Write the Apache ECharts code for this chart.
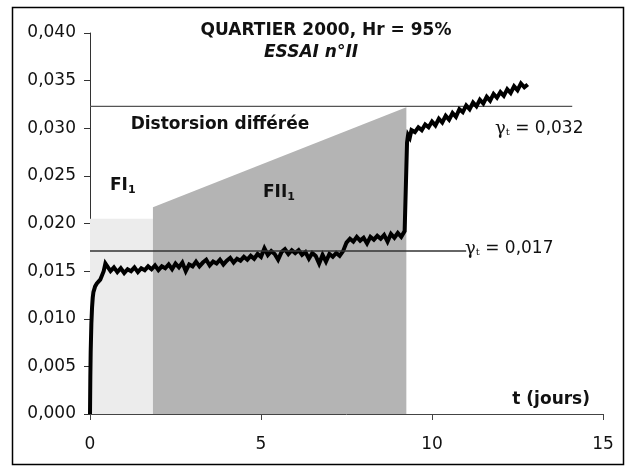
<!DOCTYPE html>
<html>
<head>
<meta charset="utf-8">
<script src="https://cdn.jsdelivr.net/npm/echarts@6/dist/echarts.min.js"></script>
<style>html,body{margin:0;padding:0;background:#fff;}#c{width:626px;height:466px;}</style>
</head>
<body>
<div id="c"></div>
<script>
// ---- data ----
const timeDays = [
  0, 0.01, 0.02, 0.04, 0.06, 0.08, 0.1, 0.15, 0.2, 0.25, 0.3, 0.35, 0.4, 0.45,
  0.5, 0.6, 0.7, 0.8, 0.9, 1.0, 1.1, 1.2, 1.3, 1.4, 1.5, 1.6, 1.7, 1.8,
  1.9, 2.0, 2.1, 2.2, 2.3, 2.4, 2.5, 2.6, 2.7, 2.8, 2.9, 3.0,
  3.1, 3.2, 3.3, 3.4, 3.5, 3.6, 3.7, 3.8, 3.9, 4.0,
  4.1, 4.2, 4.3, 4.4, 4.5, 4.6, 4.7, 4.8, 4.9, 5.0,
  5.1, 5.2, 5.3, 5.4, 5.5, 5.6, 5.7, 5.8, 5.9, 6.0,
  6.1, 6.2, 6.3, 6.4, 6.5, 6.6, 6.7, 6.8, 6.9, 7.0, 7.1, 7.2, 7.3, 7.4,
  7.5, 7.6, 7.7, 7.8, 7.9, 8.0, 8.1, 8.2, 8.3, 8.4, 8.5, 8.6, 8.7, 8.8, 8.9, 9.0, 9.1, 9.2,
  9.25, 9.27, 9.3, 9.35, 9.4, 9.5, 9.6, 9.7, 9.8, 9.9, 10.0,
  10.1, 10.2, 10.3, 10.4, 10.5, 10.6, 10.7, 10.8, 10.9, 11.0,
  11.1, 11.2, 11.3, 11.4, 11.5, 11.6, 11.7, 11.8, 11.9, 12.0,
  12.1, 12.2, 12.3, 12.4, 12.5, 12.6, 12.7, 12.8
];
const gammaStrain = [
  0, 0.0040, 0.0065, 0.0095, 0.0112, 0.0122, 0.0128, 0.0134, 0.0137, 0.0139, 0.0141, 0.0143, 0.0150, 0.0158,
  0.0156, 0.0150, 0.0154, 0.0149, 0.0153, 0.0148, 0.0152, 0.0150, 0.0154, 0.0149, 0.0153, 0.0151, 0.0155, 0.0152,
  0.0156, 0.0151, 0.0155, 0.0153, 0.0157, 0.0152, 0.0158, 0.0154, 0.0159, 0.0150, 0.0157, 0.0155,
  0.0160, 0.0155, 0.0159, 0.0162, 0.0156, 0.0160, 0.0158, 0.0162, 0.0157, 0.0161,
  0.0164, 0.0159, 0.0163, 0.0161, 0.0165, 0.0162, 0.0166, 0.0163, 0.0168, 0.0165,
  0.0174, 0.0167, 0.0171, 0.0168, 0.0162, 0.0170, 0.0173, 0.0168, 0.0172, 0.0169,
  0.0172, 0.0167, 0.0170, 0.0163, 0.0169, 0.0166, 0.0158, 0.0167, 0.0160, 0.0168, 0.0165, 0.0169, 0.0166, 0.0171,
  0.0180, 0.0184, 0.0181, 0.0186, 0.0182, 0.0185, 0.0179, 0.0186, 0.0183, 0.0187, 0.0184, 0.0188, 0.0181, 0.0189, 0.0185, 0.0190, 0.0186, 0.0192,
  0.0192, 0.0285, 0.0293, 0.0290, 0.0298, 0.0296, 0.0301, 0.0298, 0.0304, 0.0301, 0.0307,
  0.0303, 0.0310, 0.0306, 0.0313, 0.0309, 0.0316, 0.0312, 0.0320, 0.0317, 0.0324,
  0.0320, 0.0327, 0.0323, 0.0330, 0.0326, 0.0333, 0.0329, 0.0336, 0.0332, 0.0338,
  0.0334, 0.0341, 0.0337, 0.0344, 0.0340, 0.0347, 0.0343, 0.0346
];
// shaded phases
const phaseFI = [[0, 0.0205], [1.84, 0.0205]];
const phaseFII = [[1.84, 0.0217], [9.25, 0.0322]];
// threshold lines
const gammaHigh = [[0, 0.0323], [14.1, 0.0323]];
const gammaLow = [[0, 0.0171], [11.0, 0.0171]];

const curve = timeDays.map((t, i) => [t, gammaStrain[i]]);
const FONT = 'DejaVu Sans';

const chart = echarts.init(document.getElementById('c'), null, {renderer: 'canvas'});
chart.setOption({
  animation: false,
  backgroundColor: '#fff',
  grid: {left: 90, right: 23, top: 33, bottom: 52, containLabel: false},
  xAxis: {
    type: 'value', min: 0, max: 15, interval: 5,
    axisLine: {show: true, lineStyle: {color: '#444', width: 1}},
    axisTick: {show: true, inside: false, length: 6, lineStyle: {color: '#444'}},
    splitLine: {show: false},
    axisLabel: {margin: 22, color: '#111', fontFamily: FONT, fontSize: 17,
      formatter: v => String(v)}
  },
  yAxis: {
    type: 'value', min: 0, max: 0.04, interval: 0.005,
    axisLine: {show: true, lineStyle: {color: '#333', width: 1}},
    axisTick: {show: true, inside: false, length: 6, lineStyle: {color: '#333'}},
    splitLine: {show: false},
    axisLabel: {margin: 14, color: '#111', fontFamily: FONT, fontSize: 17,
      formatter: v => v.toFixed(3).replace('.', ',')}
  },
  series: [
    {type: 'line', data: phaseFI, showSymbol: false, silent: true,
      lineStyle: {width: 0}, areaStyle: {color: '#ececec', opacity: 1}, z: 1},
    {type: 'line', data: phaseFII, showSymbol: false, silent: true,
      lineStyle: {width: 0}, areaStyle: {color: '#b4b4b4', opacity: 1}, z: 1},
    {type: 'line', data: gammaHigh, showSymbol: false, silent: true,
      lineStyle: {color: '#555', width: 1.2}, z: 3},
    {type: 'line', data: curve, showSymbol: false, silent: true, smooth: false,
      lineStyle: {color: '#000', width: 4, join: 'miter'}, z: 4},
    {type: 'line', data: gammaLow, showSymbol: false, silent: true,
      lineStyle: {color: '#333', width: 1.5}, z: 5}
  ],
  graphic: [
    {type: 'rect', shape: {x: 12.5, y: 7.5, width: 611, height: 457}, silent: true,
      style: {fill: null, stroke: '#000', lineWidth: 1.5}, z: 100},
    {type: 'text', x: 326, y: 31, silent: true, z: 50,
      style: {text: 'QUARTIER 2000, Hr = 95%', font: 'bold 17px "DejaVu Sans"', fill: '#111', align: 'center', verticalAlign: 'middle'}},
    {type: 'text', x: 311, y: 53, silent: true, z: 50,
      style: {text: 'ESSAI n°II', font: 'italic bold 17px "DejaVu Sans"', fill: '#111', align: 'center', verticalAlign: 'middle'}},
    {type: 'text', x: 220, y: 125, silent: true, z: 50,
      style: {text: 'Distorsion différée', font: 'bold 17px "DejaVu Sans"', fill: '#111', align: 'center', verticalAlign: 'middle'}},
    {type: 'text', x: 110, y: 186, silent: true, z: 50,
      style: {text: '{b|FI}{s|1}', fill: '#111', verticalAlign: 'middle',
        rich: {b: {font: 'bold 17px "DejaVu Sans"', fill: '#111'}, s: {font: 'bold 11px "DejaVu Sans"', fill: '#111', padding: [8, 0, 0, 0]}}}},
    {type: 'text', x: 263, y: 193, silent: true, z: 50,
      style: {text: '{b|FII}{s|1}', fill: '#111', verticalAlign: 'middle',
        rich: {b: {font: 'bold 17px "DejaVu Sans"', fill: '#111'}, s: {font: 'bold 11px "DejaVu Sans"', fill: '#111', padding: [8, 0, 0, 0]}}}},
    {type: 'text', x: 495, y: 129, silent: true, z: 50,
      style: {text: '{g|γ}{s|t}{n| = 0,032}', verticalAlign: 'middle',
        rich: {g: {font: '18px "DejaVu Serif"', fill: '#111'}, s: {font: '10px "DejaVu Serif"', fill: '#111', padding: [7, 0, 0, 0]}, n: {font: '17px "DejaVu Sans"', fill: '#111'}}}},
    {type: 'text', x: 465, y: 249, silent: true, z: 50,
      style: {text: '{g|γ}{s|t}{n| = 0,017}', verticalAlign: 'middle',
        rich: {g: {font: '18px "DejaVu Serif"', fill: '#111'}, s: {font: '10px "DejaVu Serif"', fill: '#111', padding: [7, 0, 0, 0]}, n: {font: '17px "DejaVu Sans"', fill: '#111'}}}},
    {type: 'text', x: 590, y: 400, silent: true, z: 50,
      style: {text: 't (jours)', font: 'bold 17px "DejaVu Sans"', fill: '#111', align: 'right', verticalAlign: 'middle'}}
  ]
});
</script>
</body>
</html>
